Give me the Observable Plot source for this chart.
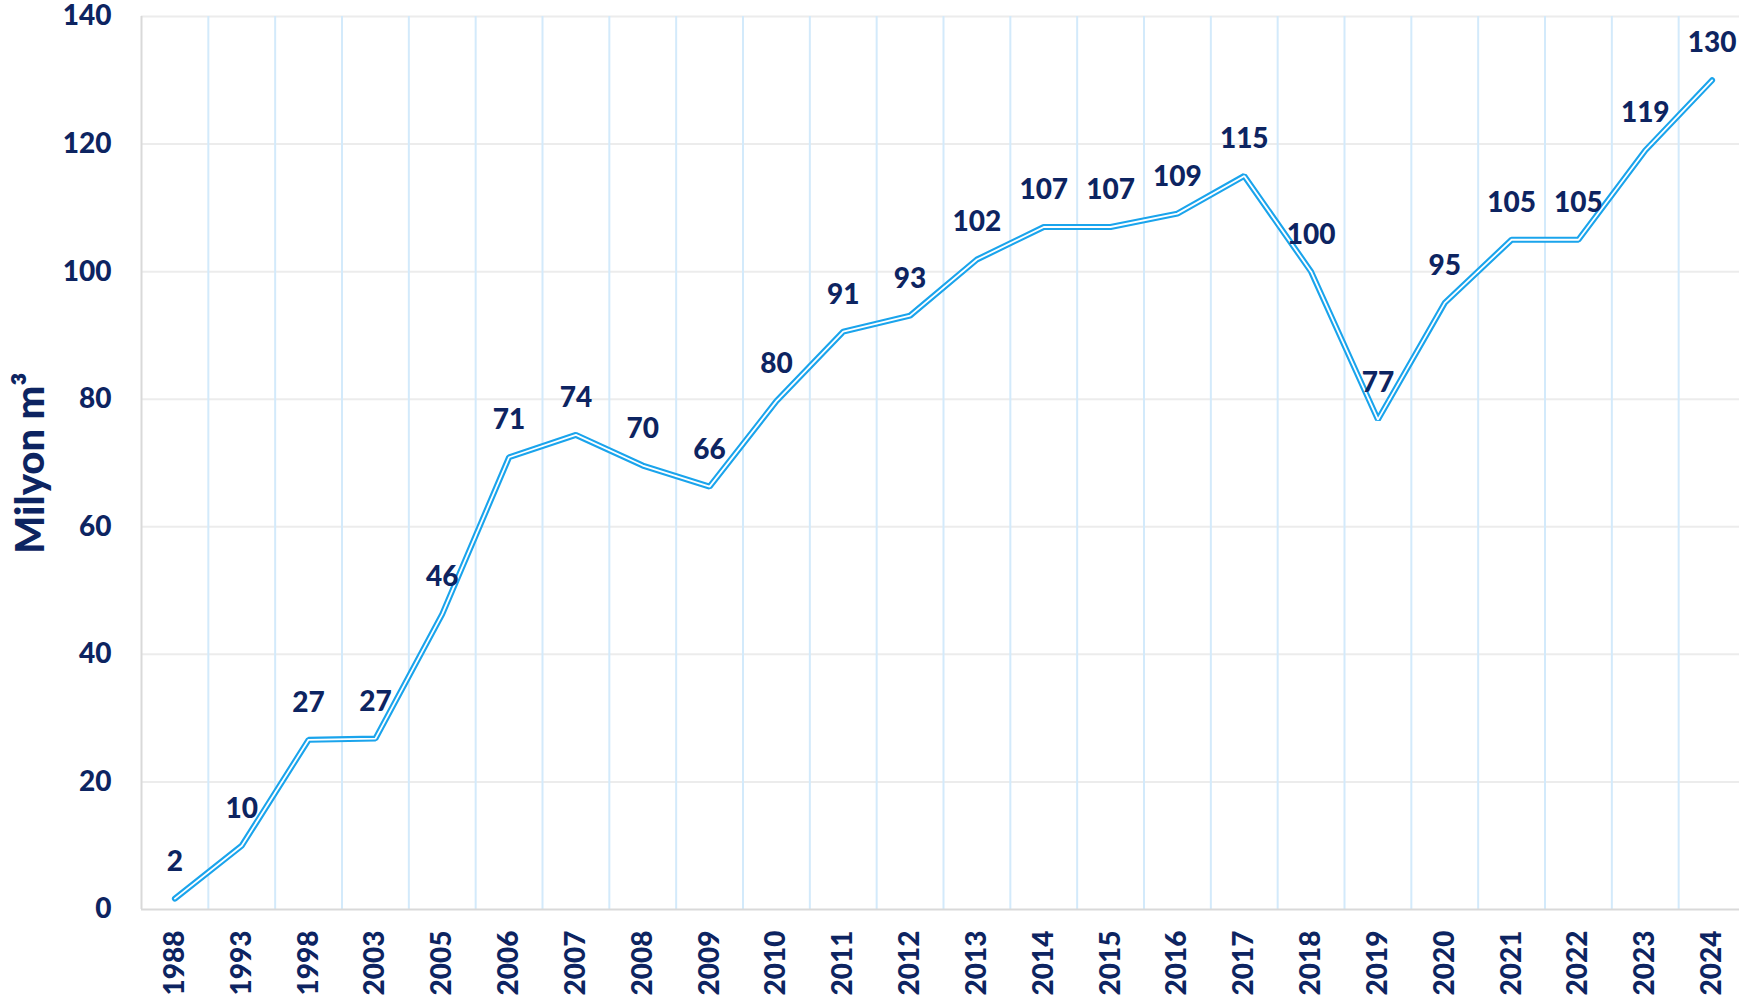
<!DOCTYPE html>
<html><head><meta charset="utf-8">
<script src="https://cdn.jsdelivr.net/npm/d3@7"></script>
<script src="https://cdn.jsdelivr.net/npm/@observablehq/plot@0.6"></script>
<style>body{margin:0;background:#fff}</style>
</head><body><div id="chart"></div>
<script>
const years = ["1988","1993","1998","2003","2005","2006","2007","2008","2009","2010","2011","2012","2013","2014","2015","2016","2017","2018","2019","2020","2021","2022","2023","2024"];
const values = [1.7,10,26.6,26.8,46.3,70.9,74.4,69.6,66.3,79.7,90.6,93.1,101.9,107,107,109.1,115,100,76.8,95.1,105,105,119,130];
const labels = values.map(v => String(Math.round(v)));
const yTicks = [0,20,40,60,80,100,120,140];
const yTitle = "Milyon m³";

const data = years.map((y,i) => ({year:y, value:values[i], label:labels[i]}));
const W = 1739, H = 1000, pLeft = 141, pRight = 1745, pTop = 16, pBottom = 909;
const step = (pRight-pLeft)/years.length;
const navy = "#0d2461", blue = "#1aa4ec";

const chart = Plot.plot({
  width: W, height: H,
  marginLeft: pLeft, marginTop: pTop, marginBottom: H-pBottom, marginRight: 0,
  style: {fontFamily: "Lato", fontWeight: 900, color: navy, background: "white", overflow: "hidden"},
  x: {type: "band", domain: years, range: [pLeft, pRight], padding: 0, align: 0.5, round: false},
  y: {domain: [0, 140], range: [pBottom, pTop]},
  marks: [
    Plot.ruleY(yTicks.filter(t => t > 0), {stroke: "#ececec", strokeWidth: 2}),
    Plot.ruleX(years.slice(1), {x: d => d, dx: -step/2, stroke: "#d3eafb", strokeWidth: 2}),
    Plot.ruleX([years[0]], {x: d => d, dx: -step/2, stroke: "#d9d9d9", strokeWidth: 2}),
    Plot.ruleY([0], {stroke: "#d9d9d9", strokeWidth: 2}),
    Plot.line(data, {x: "year", y: "value", stroke: blue, strokeWidth: 6, strokeLinejoin: "miter"}),
    Plot.line(data, {x: "year", y: "value", stroke: "white", strokeWidth: 1.8, strokeLinejoin: "miter"}),
    Plot.text(data, {x: "year", y: "value", text: "label", dy: -37, fontSize: 28, fill: navy}),
    Plot.axisY({ticks: yTicks, tickSize: 0, tickPadding: 30, fontSize: 28, label: null}),
    Plot.axisX({tickRotate: -90, tickSize: 0, tickPadding: 21, fontSize: 28, label: null}),
    Plot.text([yTitle], {frameAnchor: "left", textAnchor: "middle", dx: -110, rotate: -90, fontSize: 40, fill: navy})
  ]
});
document.getElementById("chart").appendChild(chart);
</script>
</body></html>
